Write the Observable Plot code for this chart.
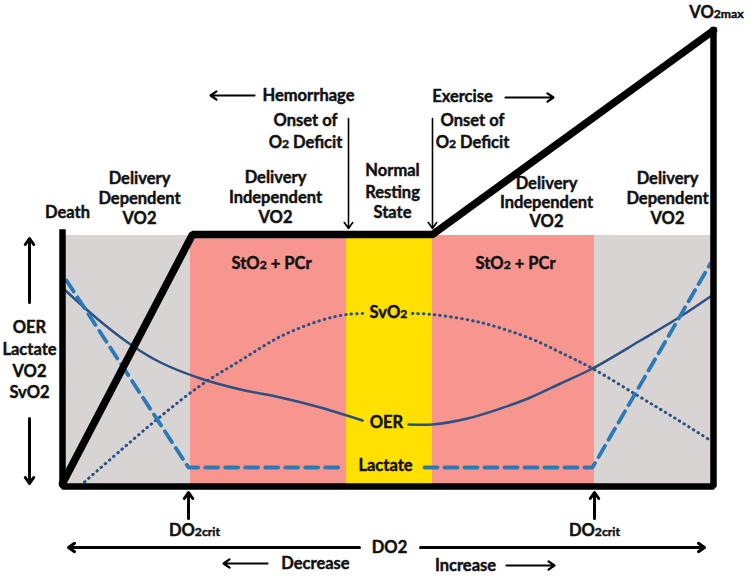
<!DOCTYPE html>
<html><head><meta charset="utf-8">
<script src="https://cdn.jsdelivr.net/npm/d3@7"></script>
<script src="https://cdn.jsdelivr.net/npm/@observablehq/plot@0.6"></script>
<style>body{margin:0;background:#fff}svg{display:block}</style>
</head><body><div id="chart"></div>
<script>
// ---- Data (diagram units: x = DO2 position, y = level, top-down) ----
const zoneKind  = ["dependent", "independent", "resting", "independent", "dependent"];
const zoneStart = [62, 190, 346, 432, 594];
const zoneEnd   = [190, 346, 432, 594, 713];
const zoneTop = 235, zoneBottom = 486;

const frameX = [62, 62, 713, 713];
const frameY = [232, 486, 486, 30];

const vo2X = [62, 192, 432, 713];
const vo2Y = [483, 234, 234, 30];

const lactateX = [[66, 188, 343], [424, 592, 710]];
const lactateY = [[280, 467, 467], [467, 467, 263]];

const oerX = [[65, 100, 133, 160, 200, 240, 280, 320, 362],
              [408, 432, 467, 500, 530, 560, 592, 640, 680, 713]];
const oerY = [[290, 321, 346, 362, 378, 389, 397, 407, 420],
              [424, 424, 418, 408, 397, 383, 368, 340, 316, 294]];

const svo2X = [[80, 120, 160, 200, 240, 280, 320, 346, 364],
               [412, 432, 480, 530, 560, 592, 637, 675, 710]];
const svo2Y = [[485, 450, 416, 385, 360, 336, 320, 314, 313],
               [313, 314, 322, 338, 352, 368, 395, 418, 440]];

const labelText = ["Death",
  "Delivery", "Dependent", "VO2",
  "Delivery", "Independent", "VO2",
  "Normal", "Resting", "State",
  "Delivery", "Independent", "VO2",
  "Delivery", "Dependent", "VO2",
  "Onset of", "O{2} Deficit", "Onset of", "O{2} Deficit",
  "Hemorrhage", "Exercise", "VO{2max}",
  "StO{2} + PCr", "StO{2} + PCr",
  "SvO{2}", "OER", "Lactate",
  "OER", "Lactate", "VO2", "SvO2",
  "DO{2crit}", "DO{2crit}", "DO2", "Decrease", "Increase"];
const labelX = [67, 139, 139, 139, 275, 275, 275, 392, 392, 392, 546, 546, 546, 667, 667, 667,
  305, 305, 472, 472, 308, 462, 716, 271, 515, 388, 386, 385, 29, 29, 29, 29, 194, 594, 389, 315, 465];
const labelY = [212, 178, 198, 218, 177, 197, 217, 170, 192, 212, 183, 202, 221, 178, 198, 218,
  120, 142, 120, 142, 95, 96, 12, 263, 263, 312, 422, 465, 327, 349, 371, 392, 530, 530, 547, 563, 565];

const arrowKind = ["note", "note", "onset", "onset", "axis", "axis", "crit", "crit", "axis", "axis", "note", "note"];
const arrowX1 = [254, 505, 348, 432, 29, 29, 188, 594, 359, 420, 267, 506];
const arrowY1 = [95, 97, 118, 118, 302, 418, 518, 518, 547, 547, 563, 565];
const arrowX2 = [210, 553, 348, 432, 29, 29, 188, 594, 68, 704, 223, 554];
const arrowY2 = [95, 97, 228, 228, 238, 483, 492, 492, 547, 547, 563, 565];

// ---- Build tables ----
const zones = zoneKind.map((k, i) => ({kind: k, x1: zoneStart[i], x2: zoneEnd[i], y1: zoneTop, y2: zoneBottom}));
const pts = (xs, ys) => xs.flatMap((seg, s) => seg.map((x, i) => ({x, y: ys[s][i], seg: s})));
const frame = frameX.map((x, i) => ({x, y: frameY[i]}));
const vo2 = vo2X.map((x, i) => ({x, y: vo2Y[i]}));
const lactate = pts(lactateX, lactateY);
const oer = pts(oerX, oerY);
const svo2 = pts(svo2X, svo2Y);
const labels = labelText.map((t, i) => ({t, x: labelX[i], y: labelY[i]}));
const arrows = arrowKind.map((k, i) => ({k, x1: arrowX1[i], y1: arrowY1[i], x2: arrowX2[i], y2: arrowY2[i]}));
const arrowWidth = {note: 2.2, onset: 1.6, axis: 3, crit: 3};

const font = "Lato, 'Open Sans', sans-serif";
const chart = Plot.plot({
  width: 750, height: 577, margin: 0,
  x: {domain: [0, 750], range: [0, 750], axis: null},
  y: {domain: [0, 577], range: [0, 577], axis: null},
  color: {domain: ["dependent", "independent", "resting"], range: ["#d9d4d4", "#f7968e", "#ffe000"]},
  style: {fontFamily: font, background: "#fff"},
  marks: [
    Plot.rect(zones, {x1: "x1", x2: "x2", y1: "y1", y2: "y2", fill: "kind"}),
    Plot.line(svo2, {x: "x", y: "y", z: "seg", stroke: "#2b5183", strokeWidth: 3, strokeDasharray: "0.5,5", strokeLinecap: "round", curve: "catmull-rom"}),
    Plot.line(oer, {x: "x", y: "y", z: "seg", stroke: "#2b5183", strokeWidth: 2.5, curve: "catmull-rom"}),
    Plot.line(lactate, {x: "x", y: "y", z: "seg", stroke: "#2a7ab8", strokeWidth: 3.8, strokeDasharray: "13,7"}),
    Plot.line(vo2, {x: "x", y: "y", stroke: "#000", strokeWidth: 7.5, strokeLinejoin: "miter"}),
    Plot.line(frame, {x: "x", y: "y", stroke: "#000", strokeWidth: 6.5, strokeLinejoin: "miter", strokeLinecap: "square"}),
    Plot.arrow(arrows, {x1: "x1", y1: "y1", x2: "x2", y2: "y2", stroke: "#000",
      strokeWidth: d => arrowWidth[d.k], headLength: 11, headAngle: 70}),
    Plot.text(labels, {x: "x", y: "y", text: "t", fill: "#111", stroke: "#111", strokeWidth: 0.45,
      fontWeight: "bold", fontSize: 16.5, textAnchor: "middle"})
  ]
});
// small baseline-aligned text for marked parts (subscripts like O2, max, crit)
chart.querySelectorAll("text").forEach(t => {
  const s = t.textContent;
  if (!s.includes("{")) return;
  t.textContent = "";
  s.split(/(\{[^}]*\})/).forEach(part => {
    if (!part) return;
    const ts = document.createElementNS("http://www.w3.org/2000/svg", "tspan");
    if (part.startsWith("{")) { ts.textContent = part.slice(1, -1); ts.style.fontSize = "0.74em"; }
    else ts.textContent = part;
    t.appendChild(ts);
  });
});
document.getElementById("chart").appendChild(chart);
</script>
</body></html>
